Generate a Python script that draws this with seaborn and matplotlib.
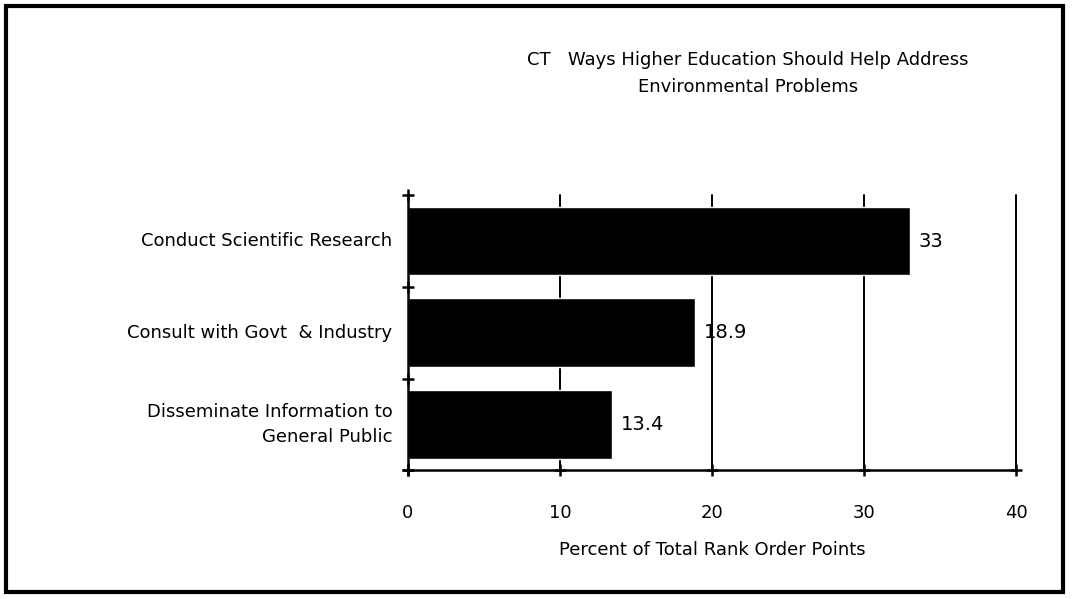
import matplotlib
matplotlib.use("Agg")
import matplotlib.pyplot as plt
import matplotlib.patches as patches
import seaborn as sns
import pandas as pd

# --- data ---
categories = ["Conduct Scientific Research",
              "Consult with Govt  & Industry",
              "Disseminate Information to\nGeneral Public"]
values = [33, 18.9, 13.4]
value_labels = ["33", "18.9", "13.4"]
x_ticks = [0, 10, 20, 30, 40]

title = "CT   Ways Higher Education Should Help Address\nEnvironmental Problems"
x_label = "Percent of Total Rank Order Points"

df = pd.DataFrame({"category": categories, "value": values})

sns.set_style("white")
plt.rcParams["font.family"] = ["DejaVu Sans"]
plt.rcParams["text.color"] = "black"
plt.rcParams["axes.labelcolor"] = "black"
plt.rcParams["xtick.color"] = "black"

fig = plt.figure(figsize=(10.73, 5.99), dpi=100)
ax = fig.add_axes([0.380, 0.215, 0.567, 0.459])

sns.barplot(data=df, x="value", y="category", orient="h", color="black",
            width=0.75, saturation=1, ax=ax)

ax.set_xlim(0, 40)
ax.set_ylim(2.5, -0.5)
ax.set_xticks(x_ticks)
ax.set_xticklabels([str(t) for t in x_ticks], fontsize=13)
ax.tick_params(axis="x", length=0, pad=24)

# ticks on the category boundaries, no tick labels there
ax.set_yticks([-0.5, 0.5, 1.5, 2.5])
ax.set_yticklabels([])
ax.tick_params(axis="y", length=0)
for i, cat in enumerate(categories):
    ax.text(-1.0, i, cat, ha="right", va="center", fontsize=13,
            linespacing=1.5)

# vertical gridlines
for t in x_ticks[1:]:
    ax.axvline(t, color="black", lw=1.4, zorder=0, clip_on=False)
ax.set_axisbelow(True)

for side in ["top", "right"]:
    ax.spines[side].set_visible(False)
for side in ["left", "bottom"]:
    ax.spines[side].set_color("black")
    ax.spines[side].set_linewidth(1.8)

# small cross marks on the axes
ax.plot([0] * 4, [-0.5, 0.5, 1.5, 2.5], marker="+", ms=8, mew=1.8,
        color="black", ls="none", clip_on=False)
ax.plot(x_ticks, [2.5] * 5, marker="+", ms=8, mew=1.8,
        color="black", ls="none", clip_on=False)

for i, (v, lab) in enumerate(zip(values, value_labels)):
    ax.text(v + 0.6, i, lab, ha="left", va="center", fontsize=14)

ax.set_xlabel(x_label, fontsize=13, labelpad=14)
ax.set_ylabel("")

fig.text(0.697, 0.877, title, ha="center", va="center", fontsize=13,
         linespacing=1.6)

# scanned page frame
frame = patches.Rectangle((0.006, 0.012), 0.985, 0.978,
                          transform=fig.transFigure, fill=False,
                          edgecolor="black", lw=3)
fig.patches.append(frame)

fig.savefig("out.png", dpi=100)
